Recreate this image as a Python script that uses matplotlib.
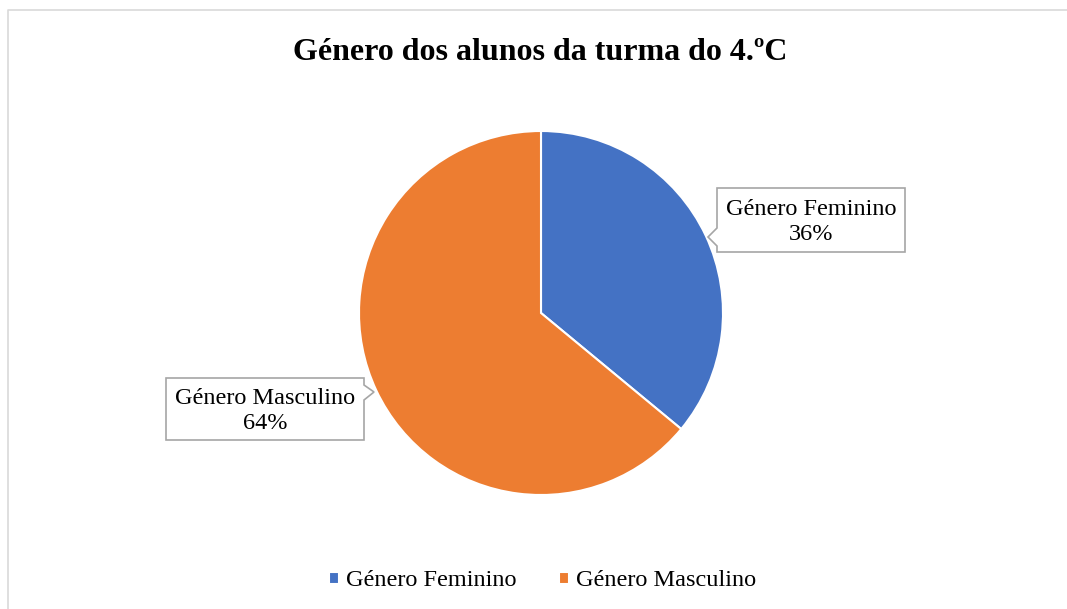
import matplotlib.pyplot as plt
from matplotlib.patches import Polygon

categorias = ["Género Feminino", "Género Masculino"]
percentagens = [36, 64]
cores = ["#4472C4", "#ED7D31"]
titulo = "Género dos alunos da turma do 4.ºC"

W, H = 1067, 609
plt.rcParams["font.family"] = ["Liberation Serif", "DejaVu Serif"]

fig = plt.figure(figsize=(W / 100, H / 100), dpi=100)
ax = fig.add_axes([0, 0, 1, 1])

def Y(y):
    return H - y

# chart area border (only top and left visible)
ax.plot([7.5, 7.5, W], [0, Y(9.5), Y(9.5)], color="#D9D9D9", lw=1.2)

wedges, _ = ax.pie(percentagens, colors=cores, startangle=90, counterclock=False,
                   center=(541, Y(313)), radius=182, frame=True,
                   wedgeprops=dict(edgecolor="white", linewidth=1.5))
ax.set_xlim(0, W)
ax.set_ylim(0, H)
ax.set_aspect("equal")
ax.axis("off")

ax.text(540, Y(52), titulo, ha="center", va="center", fontsize=23, fontweight="bold")

# callouts
def callout(x0, y0, x1, y1, notch, side, texto):
    n0, n1, tip = notch
    if side == "left":
        pts = [(x0, y0), (x1, y0), (x1, y1), (x0, y1), (x0, n1), tip, (x0, n0)]
    else:
        pts = [(x0, y0), (x1, y0), (x1, n0), tip, (x1, n1), (x1, y1), (x0, y1)]
    pts = [(px, Y(py)) for px, py in pts]
    ax.add_patch(Polygon(pts, closed=True, facecolor="white", edgecolor="#A6A6A6", lw=1.2))
    ax.text((x0 + x1) / 2, Y((y0 + y1) / 2 + 2), texto, ha="center", va="center",
            fontsize=17.5, linespacing=1.2)

callout(717, 188, 905, 252, (228, 246, (708, 237)), "left",
        f"{categorias[0]}\n{percentagens[0]}%")
callout(166, 378, 364, 440, (385, 400, (374, 392)), "right",
        f"{categorias[1]}\n{percentagens[1]}%")

ax.legend(wedges, categorias, loc="center", bbox_to_anchor=(543 / W, 1 - 581 / H),
          ncol=2, frameon=False, fontsize=17.5, handlelength=0.4, handleheight=0.4,
          handletextpad=0.3, columnspacing=1.75)

fig.savefig("out.png", dpi=100)
